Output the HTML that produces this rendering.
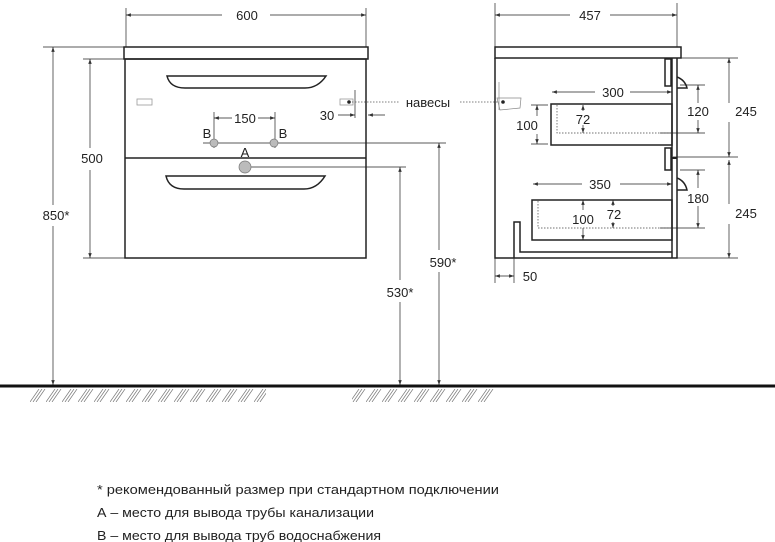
<!DOCTYPE html>
<html><head><meta charset="utf-8"><style>
html,body{margin:0;padding:0;background:#fff;}
svg{display:block;}
text{font-family:"Liberation Sans",sans-serif;fill:#222;}
</style></head><body>
<svg width="775" height="542" viewBox="0 0 775 542" xmlns="http://www.w3.org/2000/svg">
<defs>
<marker id="a" viewBox="0 0 10 10" refX="10" refY="5" markerWidth="7" markerHeight="7" orient="auto-start-reverse"><path d="M0,1.5L10,5L0,8.5z" fill="#333"/></marker>
<pattern id="h" x="30" y="389" width="16" height="13" patternUnits="userSpaceOnUse">
<g stroke="#777" stroke-width="0.7"><line x1="0" y1="13" x2="9" y2="0"/><line x1="3" y1="13" x2="12" y2="0"/><line x1="6" y1="13" x2="15" y2="0"/></g>
</pattern>
</defs>
<g fill="none" stroke="#222" stroke-width="0.7">
<line x1="126" y1="8" x2="126" y2="47"/><line x1="366" y1="8" x2="366" y2="47"/>
<line x1="43" y1="47" x2="124" y2="47"/>
<line x1="83" y1="59" x2="125" y2="59"/><line x1="83" y1="258" x2="125" y2="258"/>
<line x1="203" y1="143" x2="446" y2="143"/>
<line x1="245" y1="167" x2="406" y2="167"/>
<line x1="214" y1="112" x2="214" y2="148"/><line x1="275" y1="112" x2="275" y2="148"/>
<line x1="355" y1="90" x2="355" y2="118"/>
<line x1="126" y1="15" x2="222" y2="15" marker-start="url(#a)"/><line x1="270" y1="15" x2="366" y2="15" marker-end="url(#a)"/>
<line x1="90" y1="59" x2="90" y2="148" marker-start="url(#a)"/><line x1="90" y1="170" x2="90" y2="258" marker-end="url(#a)"/>
<line x1="53" y1="47" x2="53" y2="205" marker-start="url(#a)"/><line x1="53" y1="226" x2="53" y2="385" marker-end="url(#a)"/>
<line x1="214" y1="118" x2="232" y2="118" marker-start="url(#a)"/><line x1="258" y1="118" x2="275" y2="118" marker-end="url(#a)"/>
<line x1="338" y1="115" x2="355" y2="115" marker-end="url(#a)"/><line x1="385" y1="115" x2="368" y2="115" marker-end="url(#a)"/>
<line x1="439" y1="143" x2="439" y2="250" marker-start="url(#a)"/><line x1="439" y1="272" x2="439" y2="385" marker-end="url(#a)"/>
<line x1="400" y1="167" x2="400" y2="280" marker-start="url(#a)"/><line x1="400" y1="302" x2="400" y2="385" marker-end="url(#a)"/>
</g>
<g fill="none" stroke="#222" stroke-width="1.5">
<rect x="124" y="47" width="244" height="12"/>
<rect x="125" y="59" width="241" height="199"/>
<line x1="125" y1="158" x2="366" y2="158"/>
<path d="M167,76 L326,76 Q318,88 305,88 L185,88 Q170,88 167,76 Z"/>
<path d="M166,176 L325,176 Q317,189 304,189 L184,189 Q169,189 166,176 Z"/>
</g>
<g stroke="#999" stroke-width="0.8" fill="#fff">
<rect x="137" y="99" width="15" height="6"/><rect x="340" y="99" width="13" height="6"/>
</g>
<circle cx="349" cy="102" r="1.8" fill="#222"/>
<line x1="352" y1="102" x2="400" y2="102" stroke="#555" stroke-width="0.7" stroke-dasharray="1.5,1.5"/>
<line x1="460" y1="102" x2="500" y2="102" stroke="#555" stroke-width="0.7" stroke-dasharray="1.5,1.5"/>
<g fill="#bbb" stroke="#777" stroke-width="0.7">
<circle cx="214" cy="143" r="4"/><circle cx="274" cy="143" r="4"/><circle cx="245" cy="167" r="6"/>
</g>
<g font-size="13">
<text x="247" y="20" text-anchor="middle">600</text>
<text x="92" y="163" text-anchor="middle">500</text>
<text x="56" y="220" text-anchor="middle">850*</text>
<text x="245" y="123" text-anchor="middle">150</text>
<text x="207" y="138" text-anchor="middle">B</text>
<text x="283" y="138" text-anchor="middle">B</text>
<text x="245" y="157" text-anchor="middle">A</text>
<text x="327" y="120" text-anchor="middle">30</text>
<text x="428" y="107" text-anchor="middle">навесы</text>
<text x="443" y="267" text-anchor="middle">590*</text>
<text x="400" y="297" text-anchor="middle">530*</text>
</g>
<g fill="none" stroke="#222" stroke-width="0.7">
<line x1="495" y1="3" x2="495" y2="283"/><line x1="677" y1="3" x2="677" y2="47"/>
<line x1="514" y1="255" x2="514" y2="283"/>
<line x1="495" y1="15" x2="570" y2="15" marker-start="url(#a)"/><line x1="610" y1="15" x2="677" y2="15" marker-end="url(#a)"/>
<line x1="552" y1="92" x2="595" y2="92" marker-start="url(#a)"/><line x1="630" y1="92" x2="672" y2="92" marker-end="url(#a)"/>
<line x1="533" y1="184" x2="582" y2="184" marker-start="url(#a)"/><line x1="620" y1="184" x2="672" y2="184" marker-end="url(#a)"/>
<line x1="495" y1="276" x2="514" y2="276" marker-start="url(#a)" marker-end="url(#a)"/>
<line x1="531" y1="105" x2="548" y2="105"/><line x1="531" y1="144" x2="548" y2="144"/>
<line x1="537" y1="105" x2="537" y2="116" marker-start="url(#a)"/><line x1="537" y1="134" x2="537" y2="144" marker-end="url(#a)"/>
<line x1="583" y1="105" x2="583" y2="111" marker-start="url(#a)"/><line x1="583" y1="125" x2="583" y2="133" marker-end="url(#a)"/>
<line x1="583" y1="200" x2="583" y2="210" marker-start="url(#a)"/><line x1="583" y1="228" x2="583" y2="240" marker-end="url(#a)"/>
<line x1="613" y1="200" x2="613" y2="206" marker-start="url(#a)"/><line x1="613" y1="222" x2="613" y2="228" marker-end="url(#a)"/>
<line x1="680" y1="85" x2="705" y2="85"/><line x1="660" y1="133" x2="705" y2="133"/>
<line x1="698" y1="85" x2="698" y2="103" marker-start="url(#a)"/><line x1="698" y1="120" x2="698" y2="133" marker-end="url(#a)"/>
<line x1="680" y1="170" x2="705" y2="170"/><line x1="660" y1="228" x2="705" y2="228"/>
<line x1="698" y1="170" x2="698" y2="188" marker-start="url(#a)"/><line x1="698" y1="206" x2="698" y2="228" marker-end="url(#a)"/>
<line x1="680" y1="58" x2="738" y2="58"/><line x1="673" y1="157" x2="738" y2="157"/><line x1="677" y1="258" x2="738" y2="258"/>
<line x1="729" y1="58" x2="729" y2="103" marker-start="url(#a)"/><line x1="729" y1="122" x2="729" y2="157" marker-end="url(#a)"/>
<line x1="729" y1="160" x2="729" y2="204" marker-start="url(#a)"/><line x1="729" y1="224" x2="729" y2="258" marker-end="url(#a)"/>
</g>
<g fill="none" stroke="#222" stroke-width="1.5">
<rect x="495" y="47" width="186" height="11"/>
<polyline points="495,58 495,258 677,258 677,58"/>
<line x1="672" y1="58" x2="672" y2="258"/>
<rect x="665" y="59" width="6" height="27"/>
<rect x="665" y="148" width="6" height="22"/>
<path d="M677,77 Q685,80 687,88 L677,88"/>
<path d="M677,178 Q685,181 687,190 L677,190"/>
<rect x="551" y="104" width="121" height="41"/>
<rect x="532" y="200" width="140" height="40"/>
<polyline points="514,258 514,222 520,222 520,252 672,252"/>
</g>
<g fill="none" stroke="#444" stroke-width="0.7" stroke-dasharray="1.5,1.5">
<polyline points="557,105 557,133 672,133"/>
<polyline points="538,201 538,228 672,228"/>
</g>
<g stroke="#888" stroke-width="0.7" fill="#fff">
<path d="M497,98 L521,98 L520,108 L500,110 Z"/><line x1="499" y1="82" x2="499" y2="110"/>
</g>
<circle cx="503" cy="102" r="1.8" fill="#222"/>
<line x1="671" y1="158" x2="677" y2="158" stroke="#222" stroke-width="2"/>
<g font-size="13">
<text x="590" y="20" text-anchor="middle">457</text>
<text x="613" y="97" text-anchor="middle">300</text>
<text x="527" y="130" text-anchor="middle">100</text>
<text x="583" y="124" text-anchor="middle">72</text>
<text x="698" y="116" text-anchor="middle">120</text>
<text x="746" y="116" text-anchor="middle">245</text>
<text x="600" y="189" text-anchor="middle">350</text>
<text x="698" y="203" text-anchor="middle">180</text>
<text x="746" y="218" text-anchor="middle">245</text>
<text x="583" y="224" text-anchor="middle">100</text>
<text x="614" y="219" text-anchor="middle">72</text>
<text x="530" y="281" text-anchor="middle">50</text>
</g>
<line x1="0" y1="386" x2="775" y2="386" stroke="#111" stroke-width="3"/>
<rect x="30" y="389" width="236" height="13" fill="url(#h)"/>
<rect x="352" y="389" width="142" height="13" fill="url(#h)"/>
<g font-size="13">
<text x="97" y="494" textLength="402" lengthAdjust="spacingAndGlyphs">* рекомендованный размер при стандартном подключении</text>
<text x="97" y="517" textLength="277" lengthAdjust="spacingAndGlyphs">А – место для вывода трубы канализации</text>
<text x="97" y="540" textLength="284" lengthAdjust="spacingAndGlyphs">В – место для вывода труб водоснабжения</text>
</g>
</svg>
</body></html>
